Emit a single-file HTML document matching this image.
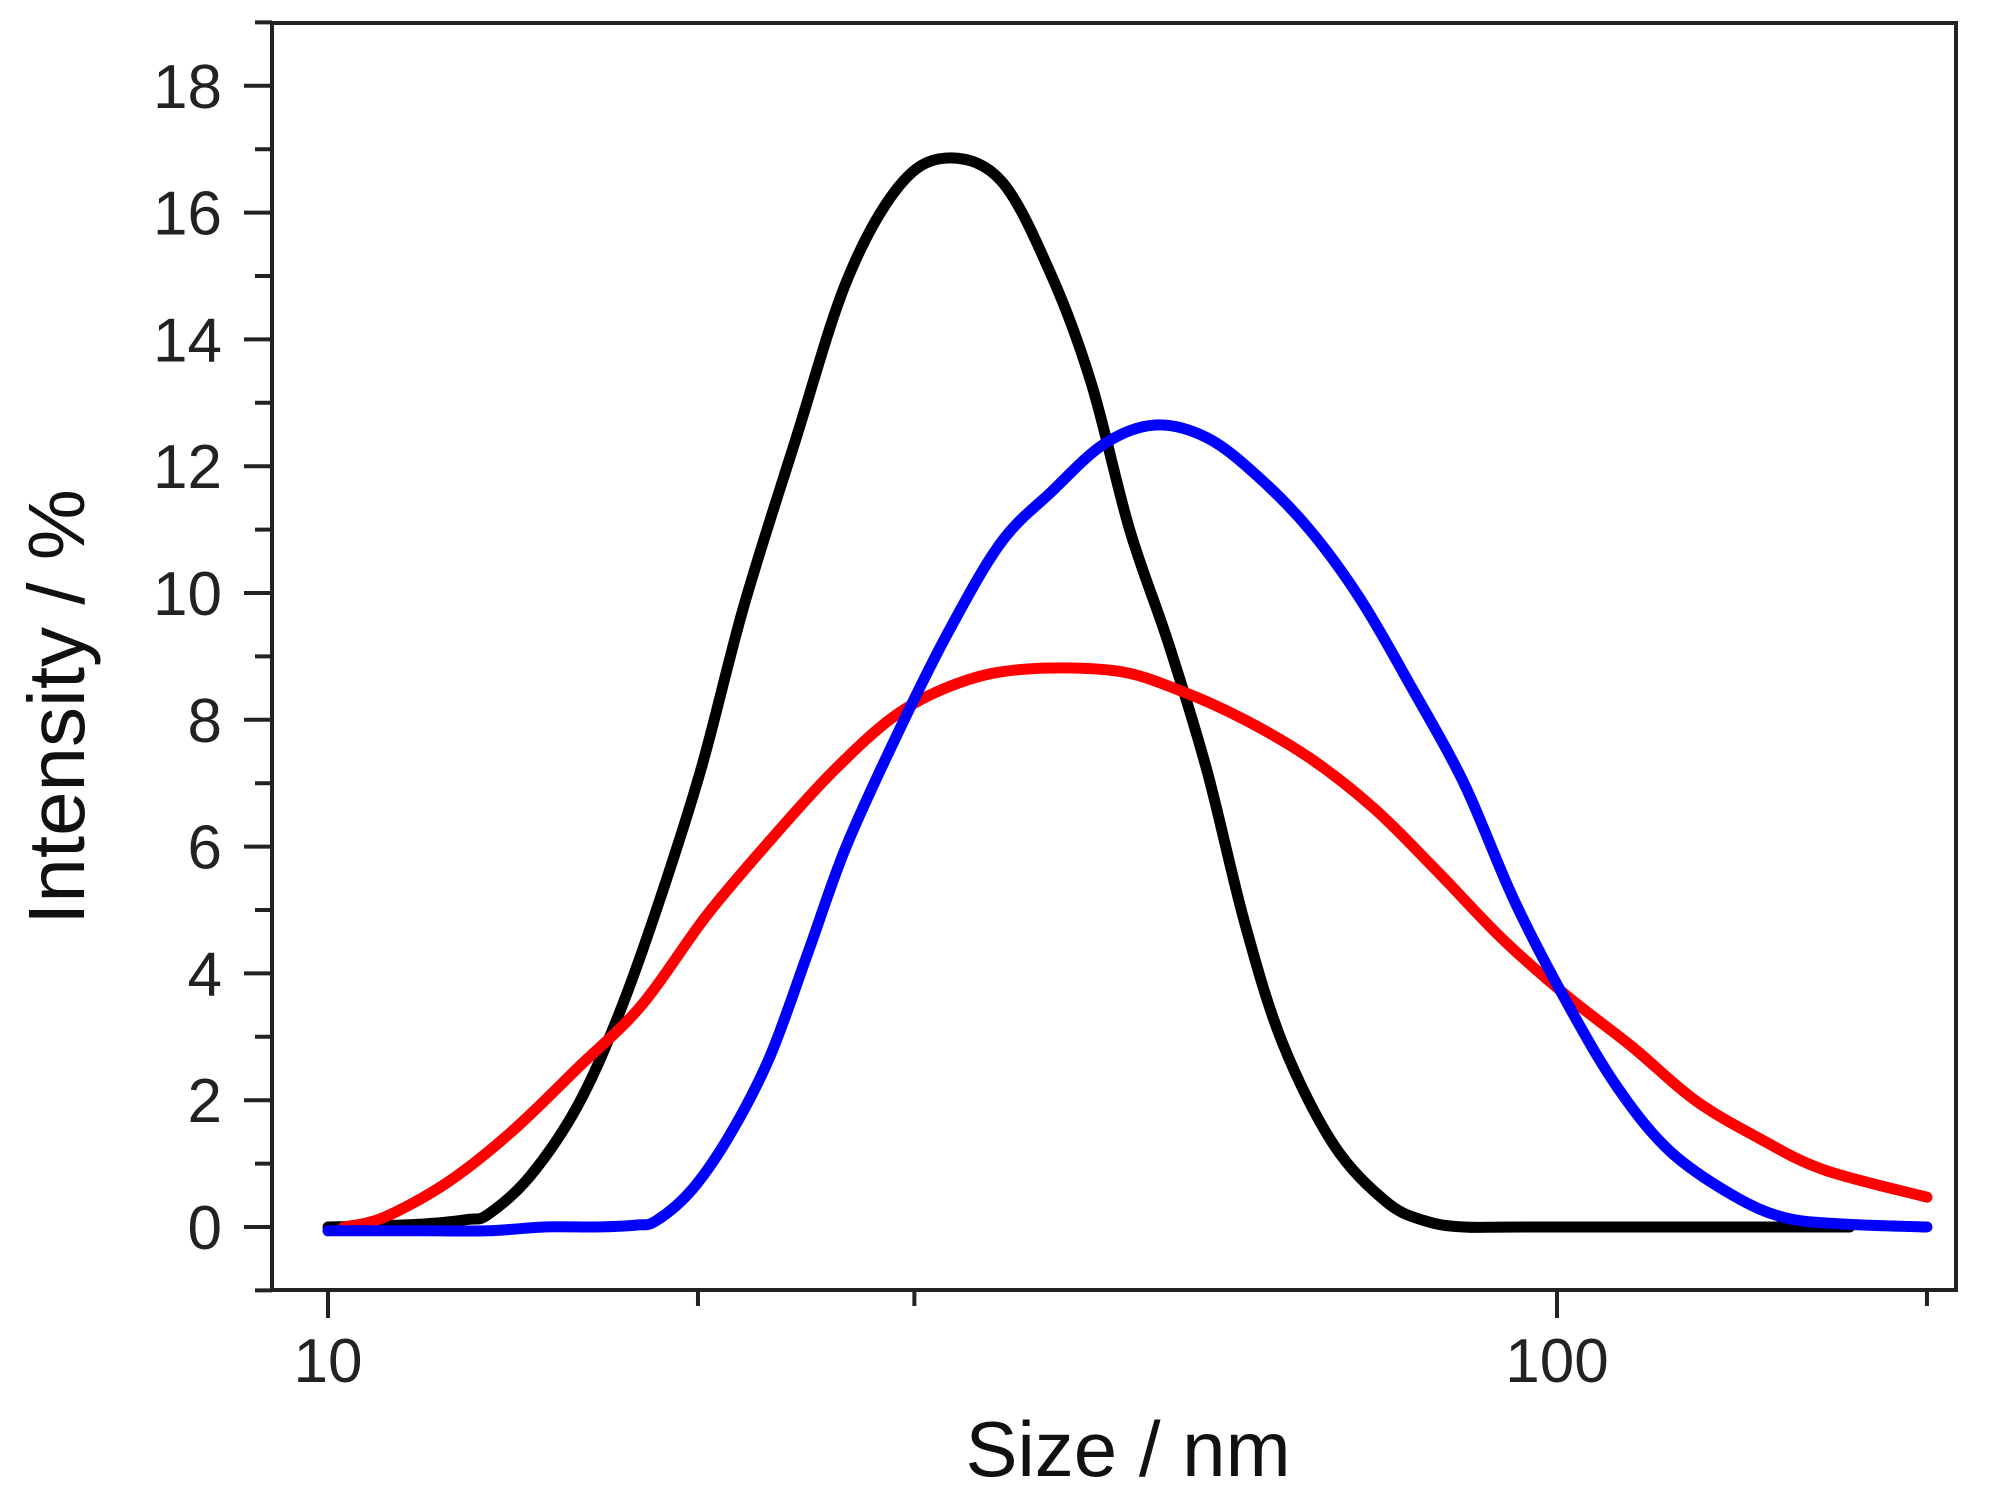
<!DOCTYPE html>
<html><head><meta charset="utf-8"><style>
html,body{margin:0;padding:0;background:#fff;}
svg{display:block;font-family:"Liberation Sans",Arial,sans-serif;}
</style></head><body>
<svg id="chart" width="2014" height="1500" viewBox="0 0 2014 1500" xmlns="http://www.w3.org/2000/svg">
<rect x="272" y="23" width="1684" height="1267" fill="none" stroke="#222" stroke-width="4"/>
<g id="axes"></g>
<g id="series"></g>
<text x="1128" y="1476" font-size="78" text-anchor="middle" fill="#111">Size / nm</text>
<text transform="translate(84,707) rotate(-90)" font-size="80" text-anchor="middle" fill="#111">Intensity / %</text>
</svg>
<script>
const yTicks = [0,2,4,6,8,10,12,14,16,18];
const xTickVals = [10,100];
const xTickLabels = ['10','100'];
const xMinorVals = [20,30,200];
const blackX = [10,11,12,13,13.5,14.6,15.95,17.2,18.5,20.1,21.8,24.0,26.4,29.1,31.8,35.3,38.8,41.8,44.9,48.3,51.9,55.7,59.8,65.8,72.6,78,84,95,173];
const blackY = [0,0.02,0.05,0.12,0.2,0.8,1.9,3.3,5.0,7.2,9.8,12.4,14.9,16.4,16.86,16.5,15.0,13.3,11.0,9.2,7.2,4.8,2.9,1.3,0.4,0.1,0,0,0];
const redX = [10.3,11.1,12.5,14.1,15.95,18.0,20.3,22.9,25.8,29.1,32.8,37.0,43.8,49.5,55.7,62.9,71,80,90.2,101.8,115,129.5,146,165,200];
const redY = [0,0.15,0.7,1.5,2.5,3.5,4.9,6.1,7.2,8.1,8.6,8.8,8.77,8.45,8.0,7.4,6.6,5.6,4.55,3.65,2.85,2.0,1.4,0.9,0.47];
const blueX = [10,12,13.5,15,16.5,17.8,18.5,19.8,21.3,22.9,24.6,26.4,29.1,32.0,35.3,38.8,42.8,47.1,51.9,57,62.9,69.2,76.2,84,92.3,101.8,112,123.5,139,153,170,200];
const blueY = [-0.06,-0.06,-0.06,0,0,0.03,0.1,0.6,1.5,2.7,4.35,6.0,7.8,9.4,10.8,11.6,12.35,12.65,12.45,11.85,11.0,9.9,8.5,7.0,5.15,3.55,2.2,1.2,0.5,0.15,0.05,0];

const NS='http://www.w3.org/2000/svg';
const X0=328, DEC=1229, Y0=1227, YU=63.4;
function xs(v){return X0+(Math.log10(v)-1)*DEC;}
function ys(v){return Y0-v*YU;}
const axes=document.getElementById('axes');
function line(x1,y1,x2,y2,name){const l=document.createElementNS(NS,'line');
l.setAttribute('x1',x1);l.setAttribute('y1',y1);l.setAttribute('x2',x2);l.setAttribute('y2',y2);
l.setAttribute('stroke','#222');l.setAttribute('stroke-width','4');


axes.appendChild(l);}
function text(x,y,s,anchor,name){const t=document.createElementNS(NS,'text');
t.setAttribute('x',x);t.setAttribute('y',y);t.setAttribute('font-size','62');t.setAttribute('fill','#222');t.setAttribute('text-anchor',anchor);t.textContent=s;


axes.appendChild(t);}
yTicks.forEach(v=>{const y=ys(v);line(244,y,272,y,'y-major-tick');text(222,y+22,String(v),'end','y-tick-label');});
for(let v=-1;v<=19;v+=2){const y=ys(v);line(255,y,272,y,'y-minor-tick');}
xTickVals.forEach((v,i)=>{const x=xs(v);line(x,1290,x,1318,'x-major-tick');text(x,1382,xTickLabels[i],'middle','x-tick-label');});
xMinorVals.forEach(v=>{const x=xs(v);line(x,1290,x,1306,'x-minor-tick');});
const ser=document.getElementById('series');
function curve(X,Y,color,name){const p=document.createElementNS(NS,'path');
const pts=X.map((v,i)=>[xs(v),ys(Y[i])]);
let d='M'+pts[0][0]+','+pts[0][1];
for(let i=0;i<pts.length-1;i++){const p0=pts[Math.max(0,i-1)],p1=pts[i],p2=pts[i+1],p3=pts[Math.min(pts.length-1,i+2)];
const c1x=p1[0]+(p2[0]-p0[0])/6,c1y=p1[1]+(p2[1]-p0[1])/6,c2x=p2[0]-(p3[0]-p1[0])/6,c2y=p2[1]-(p3[1]-p1[1])/6;
d+=' C'+c1x+','+c1y+' '+c2x+','+c2y+' '+p2[0]+','+p2[1];}
p.setAttribute('d',d);p.setAttribute('fill','none');p.setAttribute('stroke',color);p.setAttribute('stroke-width','11');p.setAttribute('stroke-linejoin','round');p.setAttribute('stroke-linecap','round');


ser.appendChild(p);}
curve(blackX,blackY,'#000','black-series-line');
curve(redX,redY,'#ff0000','red-series-line');
curve(blueX,blueY,'#0000ff','blue-series-line');
</script>
</body></html>
